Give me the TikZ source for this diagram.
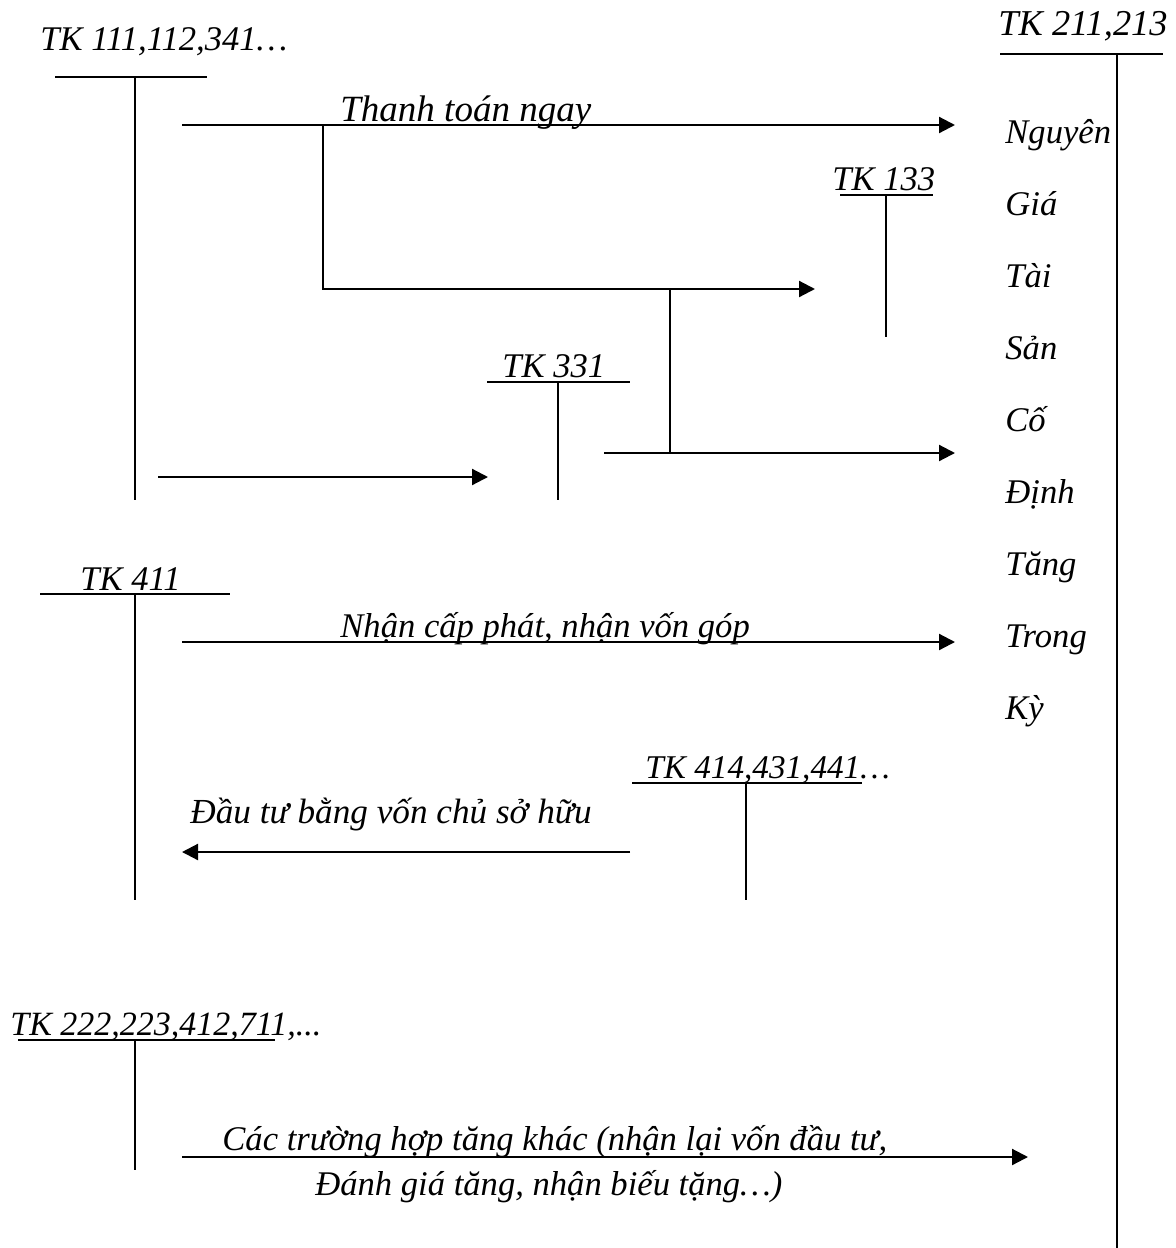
\documentclass[tikz,border=0pt]{standalone}
\usepackage{fontspec}
\setmainfont{Liberation Serif}
\usetikzlibrary{arrows.meta}
\begin{document}
\begin{tikzpicture}[x=0.5pt,y=-0.5pt,
  acct/.style={line width=1pt},
  flow/.style={line width=1.1pt,-{Triangle[length=8pt,width=8pt]}},
  link/.style={line width=1.1pt},
  lbl/.style={anchor=base west,inner sep=0pt,font=\fontsize{17.3}{21}\selectfont\itshape},
  word/.style={anchor=base west,inner sep=0pt,font=\fontsize{17.3}{21}\selectfont\itshape}]
\useasboundingbox (0,0) rectangle (1175,1248);

% T-account TK 111,112,341
\node[lbl] (t111) at (40,50) {TK 111,112,341\ldots};
\coordinate (a1l) at (55,77); \coordinate (a1r) at (207,77);
\coordinate (a1t) at (135,77); \coordinate (a1b) at (135,500);
\draw[acct] (a1l) -- (a1r) (a1t) -- (a1b);

% T-account TK 211,213
\node[lbl,font=\fontsize{18.2}{21}\selectfont\itshape] (t211) at (998,35) {TK 211,213};
\coordinate (a2l) at (1000,54); \coordinate (a2r) at (1163,54);
\coordinate (a2t) at (1117,54); \coordinate (a2b) at (1117,1248);
\draw[acct] (a2l) -- (a2r) (a2t) -- (a2b);
\foreach \w [count=\i from 0] in {Nguyên,Giá,Tài,Sản,Cố,Định,Tăng,Trong,Kỳ}
  \node[word] (w\i) at (1005,143+72*\i) {\w};

% T-account TK 133
\node[lbl] (t133) at (832,190) {TK 133};
\coordinate (a3l) at (840,195); \coordinate (a3r) at (933,195);
\coordinate (a3t) at (886,195); \coordinate (a3b) at (886,337);
\draw[acct] (a3l) -- (a3r) (a3t) -- (a3b);

% T-account TK 331
\node[lbl] (t331) at (502,377) {TK 331};
\coordinate (a4l) at (487,382); \coordinate (a4r) at (630,382);
\coordinate (a4t) at (558,382); \coordinate (a4b) at (558,500);
\draw[acct] (a4l) -- (a4r) (a4t) -- (a4b);

% T-account TK 411
\node[lbl] (t411) at (80,590) {TK 411};
\coordinate (a5l) at (40,594); \coordinate (a5r) at (230,594);
\coordinate (a5t) at (135,594); \coordinate (a5b) at (135,900);
\draw[acct] (a5l) -- (a5r) (a5t) -- (a5b);

% T-account TK 414,431,441
\node[lbl,font=\fontsize{16.6}{21}\selectfont\itshape] (t414) at (645,778) {TK 414,431,441\ldots};
\coordinate (a6l) at (632,783); \coordinate (a6r) at (862,783);
\coordinate (a6t) at (746,783); \coordinate (a6b) at (746,900);
\draw[acct] (a6l) -- (a6r) (a6t) -- (a6b);

% T-account TK 222,223,412,711
\node[lbl,font=\fontsize{17}{21}\selectfont\itshape] (t222) at (10,1035) {TK 222,223,412,711,...};
\coordinate (a7l) at (18,1040); \coordinate (a7r) at (275,1040);
\coordinate (a7t) at (135,1040); \coordinate (a7b) at (135,1170);
\draw[acct] (a7l) -- (a7r) (a7t) -- (a7b);

% Immediate payment, with VAT branch
\coordinate (p1s) at (182,125); \coordinate (p1e) at (955,125);
\draw[flow] (p1s) -- (p1e);
\node[lbl,font=\fontsize{18.5}{21}\selectfont\itshape] (lpay) at (340,121) {Thanh toán ngay};
\coordinate (b1) at (323,125); \coordinate (b2) at (323,289);
\coordinate (b3) at (815,289);
\draw[flow] (b1) -- (b2) -- (b3);

% Payment through supplier account
\coordinate (s1) at (158,477); \coordinate (s2) at (488,477);
\draw[flow] (s1) -- (s2);
\coordinate (s3) at (604,453); \coordinate (s4) at (955,453);
\draw[flow] (s3) -- (s4);
\coordinate (v1) at (670,289); \coordinate (v2) at (670,453);
\draw[link] (v1) -- (v2);

% Capital contribution
\coordinate (c1) at (182,642); \coordinate (c2) at (955,642);
\draw[flow] (c1) -- (c2);
\node[lbl] (lcap) at (340,637) {Nhận cấp phát, nhận vốn góp};

% Owner's equity investment
\node[lbl,font=\fontsize{17.6}{21}\selectfont\itshape] (lown) at (190,823) {Đầu tư bằng vốn chủ sở hữu};
\coordinate (o1) at (630,852); \coordinate (o2) at (182,852);
\draw[flow] (o1) -- (o2);

% Other increases
\coordinate (x1) at (182,1157); \coordinate (x2) at (1028,1157);
\draw[flow] (x1) -- (x2);
\node[lbl] (loth1) at (222,1150) {Các trường hợp tăng khác (nhận lại vốn đầu tư,};
\node[lbl] (loth2) at (315,1195) {Đánh giá tăng, nhận biếu tặng\ldots)};
\end{tikzpicture}
\end{document}
